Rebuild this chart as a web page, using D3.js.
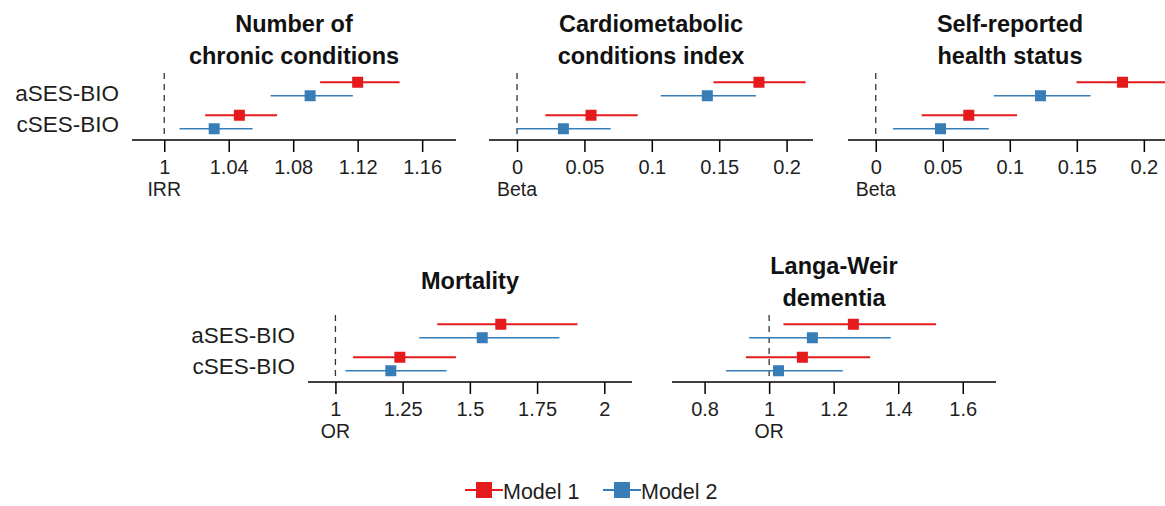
<!DOCTYPE html>
<html lang="en">
  <head>
    <meta charset="utf-8" />
    <title>aSES-BIO and cSES-BIO associations</title>
    <script src="https://cdnjs.cloudflare.com/ajax/libs/d3/7.8.5/d3.min.js"></script>
    <style>
      body {
        margin: 0;
        background: #ffffff;
        font-family: "Liberation Sans", Arial, sans-serif;
      }
      .tick-label {
        font-size: 20px;
        fill: #1e1e1e;
      }
      .unit-label {
        font-size: 19.5px;
        fill: #1e1e1e;
      }
      .row-label {
        font-size: 22.5px;
        fill: #1e1e1e;
      }
      .legend-label {
        font-size: 21.5px;
        fill: #1e1e1e;
      }
      .panel-title {
        font-size: 23.5px;
        font-weight: bold;
        fill: #111;
      }
    </style>
  </head>

  <body>
    <div id="chart"></div>

    <script>
      // Row order inside each panel: aSES-BIO Model 1, aSES-BIO Model 2,
      // cSES-BIO Model 1, cSES-BIO Model 2
      const exposures = ["aSES-BIO", "cSES-BIO"];
      const models = ["Model 1", "Model 2"];
      const modelColors = ["#e41a1c", "#377eb8"];

      // Number of chronic conditions (IRR)
      const chronicEst = [1.12, 1.0905, 1.0466, 1.031];
      const chronicLo = [1.0967, 1.066, 1.0254, 1.0095];
      const chronicHi = [1.146, 1.117, 1.07, 1.0548];
      const chronicTicks = [1, 1.04, 1.08, 1.12, 1.16];

      // Cardiometabolic conditions index (Beta)
      const cardioEst = [0.1795, 0.1412, 0.0549, 0.0344];
      const cardioLo = [0.1457, 0.1066, 0.021, 0.0];
      const cardioHi = [0.2141, 0.1773, 0.0895, 0.0695];
      const cardioTicks = [0, 0.05, 0.1, 0.15, 0.2];

      // Self-reported health status (Beta)
      const healthEst = [0.1841, 0.1229, 0.0694, 0.0483];
      const healthLo = [0.1498, 0.0881, 0.0343, 0.0129];
      const healthHi = [0.219, 0.1602, 0.1054, 0.0843];
      const healthTicks = [0, 0.05, 0.1, 0.15, 0.2];

      // Mortality (OR)
      const mortEst = [1.615, 1.546, 1.2396, 1.206];
      const mortLo = [1.3786, 1.3115, 1.0656, 1.037];
      const mortHi = [1.9, 1.833, 1.448, 1.4136];
      const mortTicks = [1, 1.25, 1.5, 1.75, 2];

      // Langa-Weir dementia (OR)
      const dementiaEst = [1.261, 1.134, 1.103, 1.029];
      const dementiaLo = [1.0443, 0.938, 0.928, 0.866];
      const dementiaHi = [1.517, 1.377, 1.313, 1.228];
      const dementiaTicks = [0.8, 1, 1.2, 1.4, 1.6];

      const width = 1165;
      const height = 506;

      const svg = d3
        .select("#chart")
        .append("svg")
        .attr("width", width)
        .attr("height", height);

      // panel layout: axis span in pixels and axis baseline
      const panels = [
        {
          title: ["Number of", "chronic conditions"],
          unit: "IRR", ref: 1, domain: [0.98, 1.181],
          est: chronicEst, lo: chronicLo, hi: chronicHi, ticks: chronicTicks,
          x0: 132, x1: 456, y: 140, rowLabels: true,
        },
        {
          title: ["Cardiometabolic", "conditions index"],
          unit: "Beta", ref: 0, domain: [-0.0208, 0.2196],
          est: cardioEst, lo: cardioLo, hi: cardioHi, ticks: cardioTicks,
          x0: 489, x1: 813, y: 140, rowLabels: false,
        },
        {
          title: ["Self-reported", "health status"],
          unit: "Beta", ref: 0, domain: [-0.0207, 0.221],
          est: healthEst, lo: healthLo, hi: healthHi, ticks: healthTicks,
          x0: 848, x1: 1172, y: 140, rowLabels: false,
        },
        {
          title: ["Mortality"],
          unit: "OR", ref: 1, domain: [0.898, 2.103],
          est: mortEst, lo: mortLo, hi: mortHi, ticks: mortTicks,
          x0: 308, x1: 632, y: 382, rowLabels: true,
        },
        {
          title: ["Langa-Weir", "dementia"],
          unit: "OR", ref: 1, domain: [0.699, 1.703],
          est: dementiaEst, lo: dementiaLo, hi: dementiaHi, ticks: dementiaTicks,
          x0: 672, x1: 996, y: 382, rowLabels: false,
        },
      ];

      const fmt = (v) => d3.format("")(+v.toFixed(3));

      panels.forEach((p) => {
        const g = svg.append("g");
        const x = d3.scaleLinear().domain(p.domain).range([p.x0, p.x1]);
        const yGroup = d3
          .scalePoint()
          .domain(exposures)
          .range([p.y - 51, p.y - 18]);
        const yModel = d3.scalePoint().domain(models).range([-6.75, 6.75]);

        const rows = p.est.map((e, i) => ({
          exposure: exposures[Math.floor(i / 2)],
          model: i % 2,
          est: e,
          lo: p.lo[i],
          hi: p.hi[i],
        }));
        const rowY = (d) => yGroup(d.exposure) + yModel(models[d.model]);

        // reference line at the null value
        g.append("line")
          .attr("x1", x(p.ref))
          .attr("x2", x(p.ref))
          .attr("y1", p.y - 67)
          .attr("y2", p.y - 3)
          .attr("stroke", "#333")
          .attr("stroke-width", 1.3)
          .attr("stroke-dasharray", "6,5");

        // axis
        const axis = d3
          .axisBottom(x)
          .tickValues(p.ticks)
          .tickSize(12)
          .tickPadding(0)
          .tickFormat(fmt);
        const ax = g
          .append("g")
          .attr("transform", `translate(0,${p.y})`)
          .call(axis);
        ax.select(".domain")
          .attr("d", `M${p.x0},0H${p.x1}`)
          .attr("stroke", "#000")
          .attr("stroke-width", 1.5);
        ax.selectAll(".tick line").attr("stroke", "#000").attr("stroke-width", 1.5);
        ax.selectAll(".tick text")
          .attr("class", "tick-label")
          .attr("y", 34)
          .attr("dy", null);
        ax.attr("font-family", null).attr("font-size", null);

        // unit label under the null value
        g.append("text")
          .attr("class", "unit-label")
          .attr("x", x(p.ref))
          .attr("y", p.y + 56)
          .attr("text-anchor", "middle")
          .text(p.unit);

        // confidence intervals
        g.selectAll(".ci")
          .data(rows)
          .enter()
          .append("line")
          .attr("x1", (d) => x(d.lo))
          .attr("x2", (d) => x(d.hi))
          .attr("y1", rowY)
          .attr("y2", rowY)
          .attr("stroke", (d) => modelColors[d.model])
          .attr("stroke-width", (d) => (d.model === 0 ? 2 : 1.7));

        // point estimates
        const s = 11;
        g.selectAll(".pt")
          .data(rows)
          .enter()
          .append("rect")
          .attr("x", (d) => x(d.est) - s / 2)
          .attr("y", (d) => rowY(d) - s / 2)
          .attr("width", s)
          .attr("height", s)
          .attr("fill", (d) => modelColors[d.model]);

        // title
        const titleY =
          p.title.length === 2 ? [p.y - 108, p.y - 76] : [p.y - 93];
        p.title.forEach((t, i) => {
          g.append("text")
            .attr("class", "panel-title")
            .attr("x", (p.x0 + p.x1) / 2)
            .attr("y", titleY[i])
            .attr("text-anchor", "middle")
            .text(t);
        });

        // row labels on the first panel of each row
        if (p.rowLabels) {
          const labelY = [p.y - 39.5, p.y - 8];
          exposures.forEach((e, i) => {
            g.append("text")
              .attr("class", "row-label")
              .attr("x", p.x0 - 13)
              .attr("y", labelY[i])
              .attr("text-anchor", "end")
              .text(e);
          });
        }
      });

      // legend
      const legend = svg.append("g").attr("transform", "translate(465,490)");
      const legendX = [0, 138];
      models.forEach((m, i) => {
        const lg = legend.append("g").attr("transform", `translate(${legendX[i]},0)`);
        lg.append("line")
          .attr("x1", 0)
          .attr("x2", 38)
          .attr("y1", 0)
          .attr("y2", 0)
          .attr("stroke", modelColors[i])
          .attr("stroke-width", 2);
        lg.append("rect")
          .attr("x", 19 - 8)
          .attr("y", -8)
          .attr("width", 16)
          .attr("height", 16)
          .attr("fill", modelColors[i]);
        lg.append("text")
          .attr("class", "legend-label")
          .attr("x", 38)
          .attr("y", 8.5)
          .text(m);
      });
    </script>
  </body>
</html>
